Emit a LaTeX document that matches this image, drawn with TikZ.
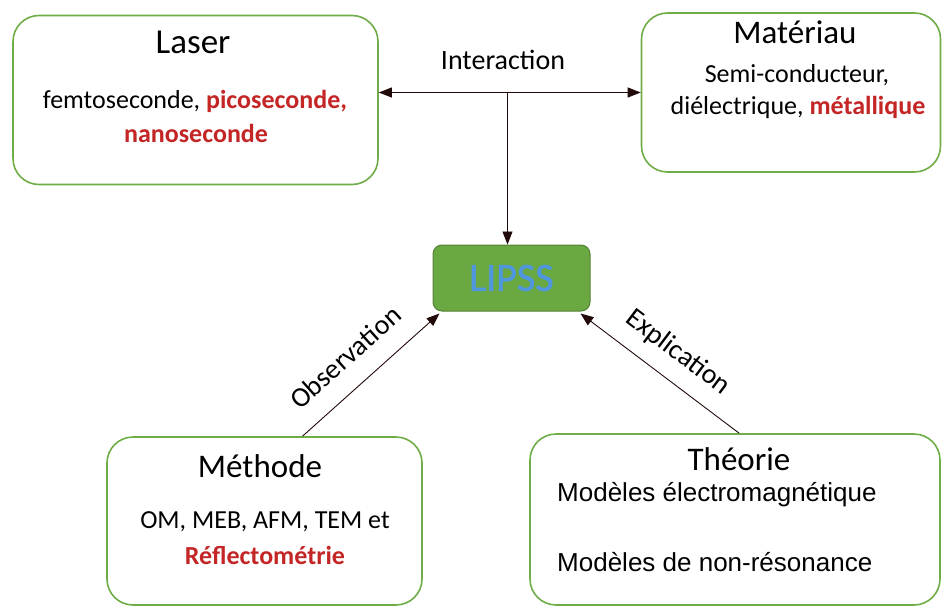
\documentclass[tikz,border=0pt]{standalone}
\usepackage{fontspec}
\setmainfont{Carlito}
\newfontfamily\arialf{Liberation Sans}
\newfontfamily\lipssf[FakeBold=1.5]{Carlito}
\usetikzlibrary{arrows.meta,calc}
\definecolor{boxgreen}{RGB}{112,173,71}
\definecolor{lipssfill}{RGB}{106,168,66}
\definecolor{lipssborder}{RGB}{84,130,53}
\definecolor{txtred}{RGB}{196,38,38}
\definecolor{lipsstxt}{RGB}{80,150,220}
\definecolor{linecol}{RGB}{35,10,10}
\begin{document}
\begin{tikzpicture}[x=1pt,y=-1pt,
  card/.style={draw=boxgreen, line width=1.6pt, rounded corners=26pt, fill=white},
  ttl/.style={font=\fontsize{33}{36}\selectfont, inner sep=0pt},
  bod/.style={font=\fontsize{26}{30}\selectfont, inner sep=0pt},
  arl/.style={font=\arialf\fontsize{26}{30}\selectfont, inner sep=0pt},
  conn/.style={draw=linecol, line width=0.9pt, -{Triangle[length=13pt,width=10pt]}},
  lbl/.style={font=\fontsize{28}{32}\selectfont, inner sep=2pt}]
\useasboundingbox (0,0) rectangle (943,608);
% boxes
\node[card, minimum width=365pt, minimum height=169pt] (laser) at (195.5,100) {};
\node[card, minimum width=299pt, minimum height=159pt] (mat) at (791,92.5) {};
\node[draw=lipssborder, fill=lipssfill, line width=1pt, rounded corners=9pt, minimum width=157pt, minimum height=66pt] (lipss) at (511.5,278) {};
\node[card, minimum width=315pt, minimum height=168pt] (meth) at (264.5,521) {};
\node[card, minimum width=410pt, minimum height=171pt] (theo) at (735,519.5) {};
% texts
\node[ttl, font=\fontsize{35}{38}\selectfont] (tlaser) at (193,42) {Laser};
\node[bod] (l1) at (195,101) {femtoseconde, \textcolor{txtred}{\textbf{picoseconde,}}};
\node[bod] (l2) at (196,133) {\textcolor{txtred}{\textbf{nanoseconde}}};
\node[ttl] (tmat) at (795,32) {Matériau};
\node[bod] (m1) at (797,75) {Semi-conducteur,};
\node[bod] (m2) at (798,107) {diélectrique, \textcolor{txtred}{\textbf{métallique}}};
\node[ttl] (tmeth) at (260,466) {Méthode};
\node[bod] (e1) at (265,522) {OM, MEB, AFM, TEM et};
\node[bod] (e2) at (265,555) {\textcolor{txtred}{\textbf{Réflectométrie}}};
\node[ttl] (ttheo) at (739,459) {Théorie};
\node[arl, anchor=west] (h1) at (557,495) {Modèles électromagnétique};
\node[arl, anchor=west] (h2) at (557,562) {Modèles de non-résonance};
\node[font=\lipssf\fontsize{40}{44}\selectfont, text=lipsstxt, inner sep=0pt] (tl) at (lipss) {LIPSS};
\node[lbl] (inter) at (503,60) {Interaction};
% connectors
\coordinate (j) at ($(lipss.north)+(-4,0)$);
\coordinate (jj) at (j |- mat.west);
\draw[conn, {Triangle[length=13pt,width=10pt]}-{Triangle[length=13pt,width=10pt]}] (laser.east |- mat.west) -- (mat.west);
\draw[conn] (jj) -- (j);
\draw[conn] ($(meth.north west)!0.62!(meth.north east)$) -- node[lbl, sloped, above=18pt, pos=0.46] {Observation} ($(lipss.south west)+(7,2)$);
\draw[conn] ($(theo.north west)!0.51!(theo.north east)$) -- node[lbl, sloped, above=13pt, pos=0.49] {Explication} ($(lipss.south east)+(-10,2)$);
\end{tikzpicture}
\end{document}
